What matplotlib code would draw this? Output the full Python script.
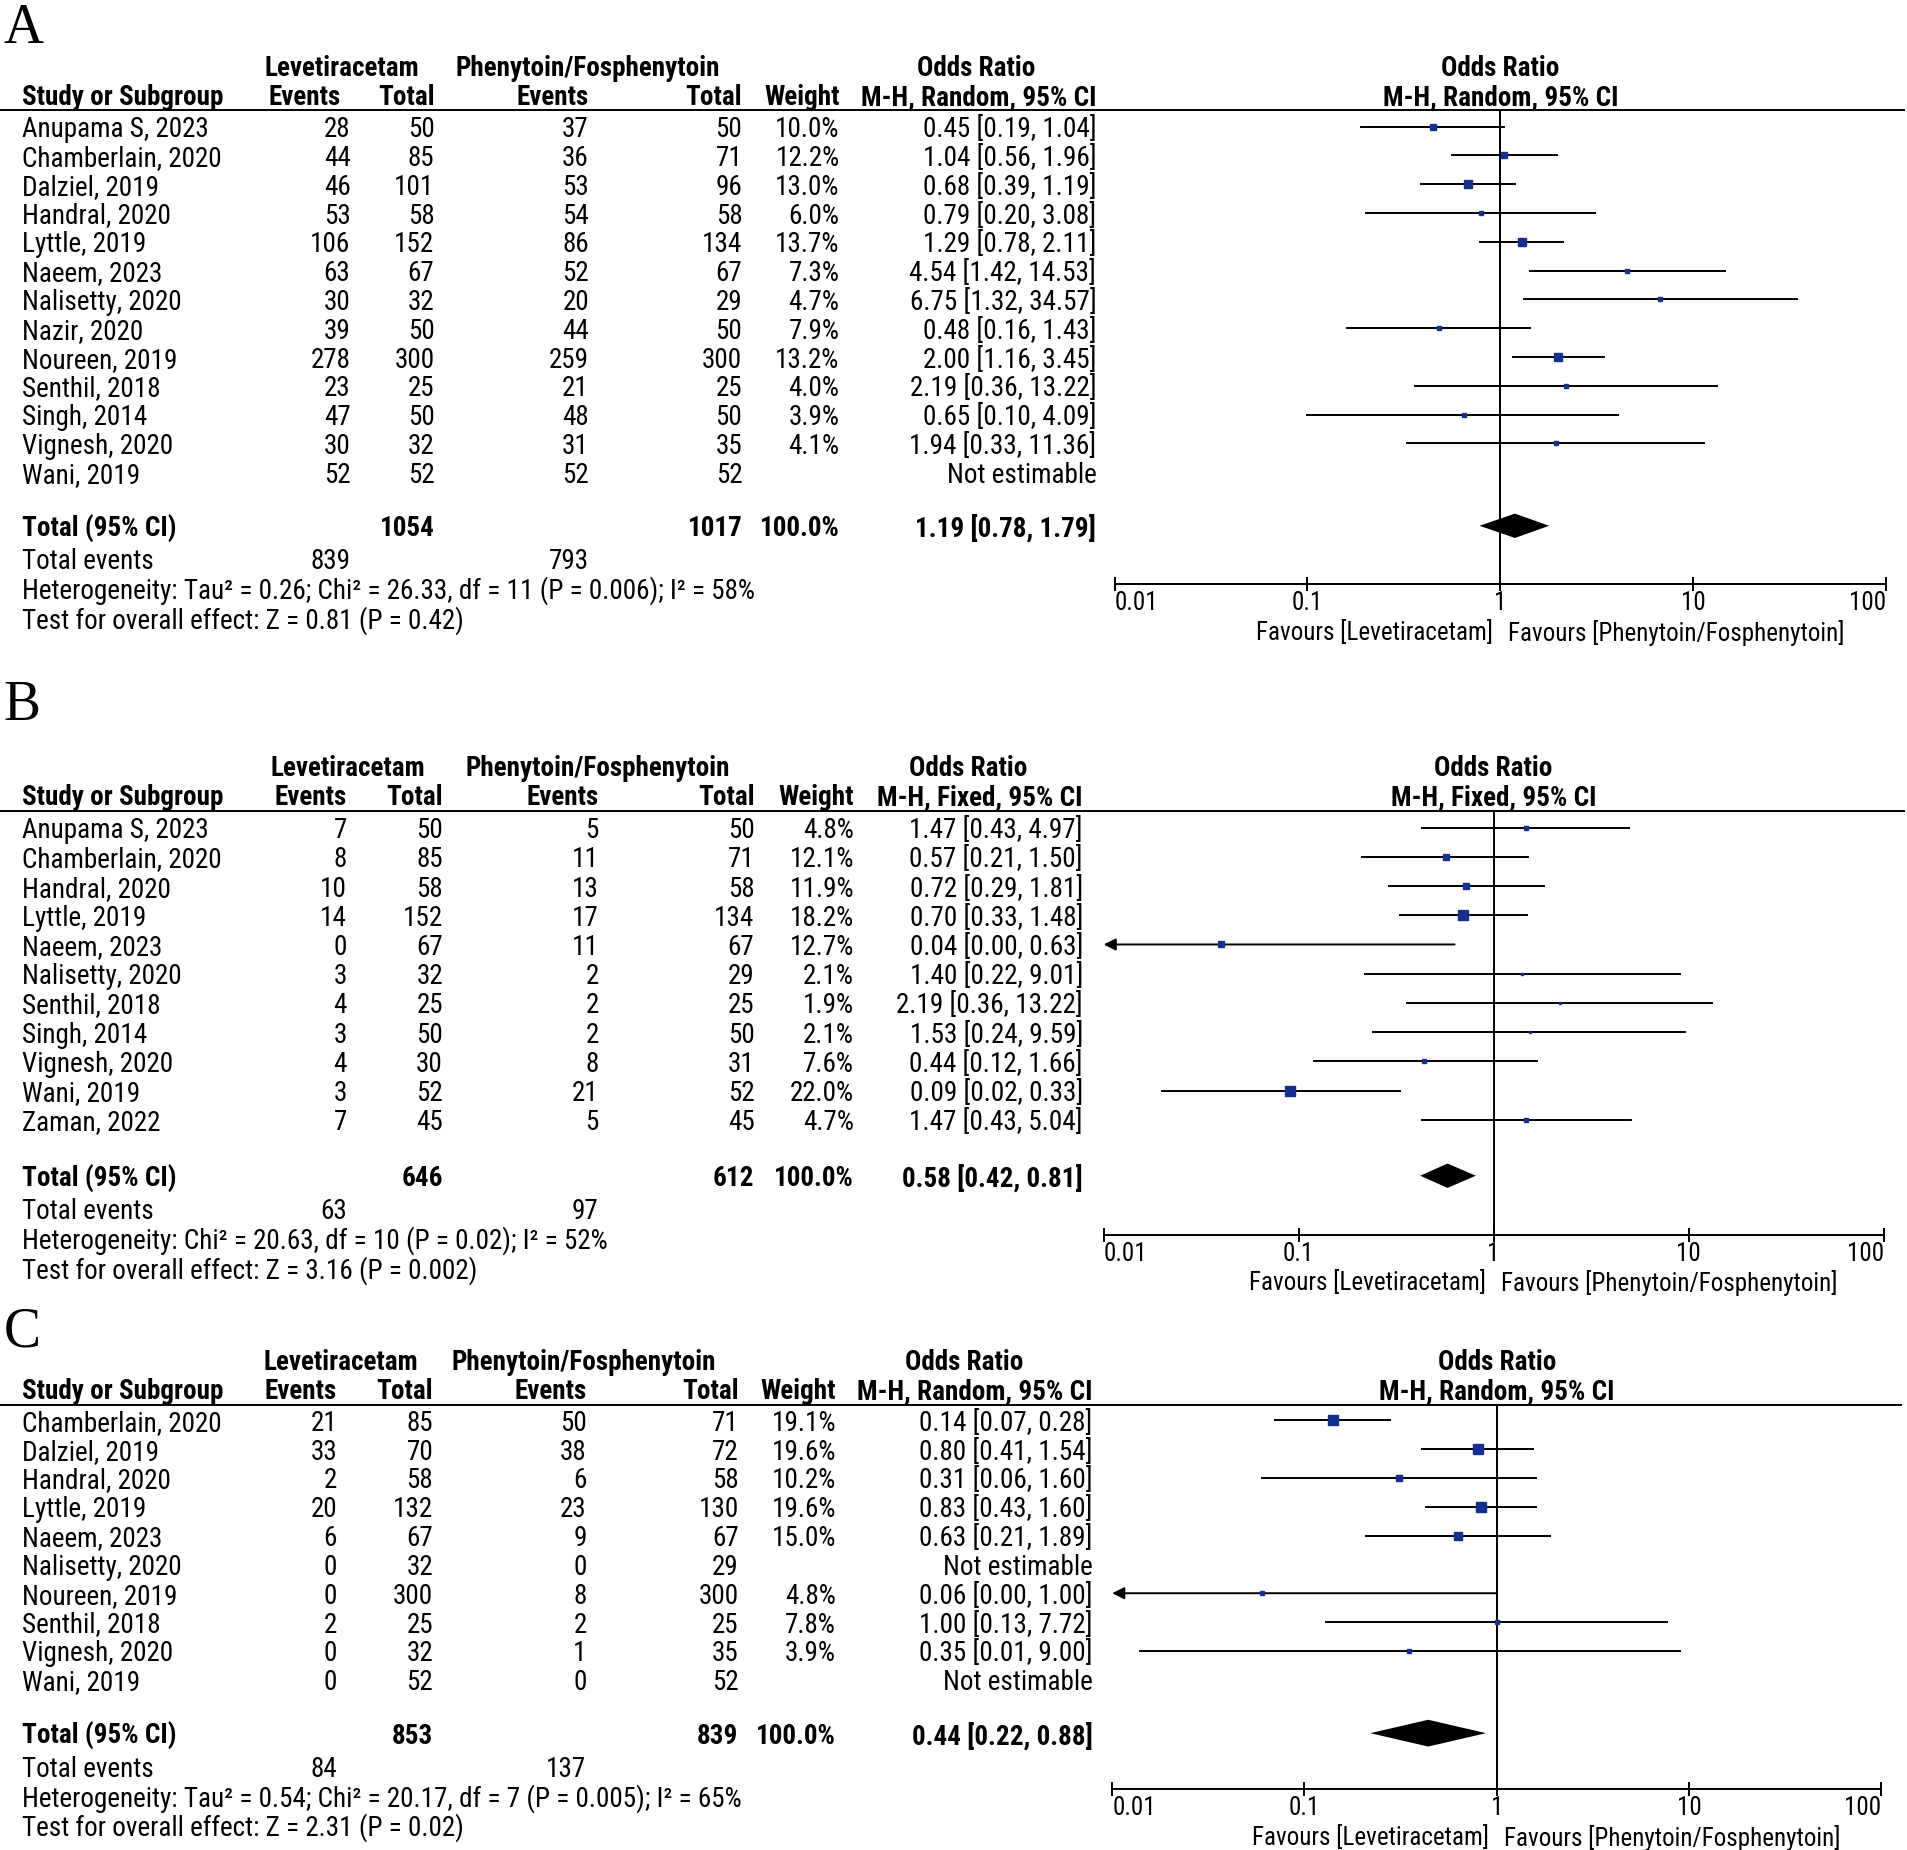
import matplotlib.pyplot as plt
import numpy as np

# ---- data ----
studies_a = ["Anupama S, 2023", "Chamberlain, 2020", "Dalziel, 2019", "Handral, 2020",
             "Lyttle, 2019", "Naeem, 2023", "Nalisetty, 2020", "Nazir, 2020",
             "Noureen, 2019", "Senthil, 2018", "Singh, 2014", "Vignesh, 2020", "Wani, 2019"]
lev_ev_a = [28, 44, 46, 53, 106, 63, 30, 39, 278, 23, 47, 30, 52]
lev_tot_a = [50, 85, 101, 58, 152, 67, 32, 50, 300, 25, 50, 32, 52]
phe_ev_a = [37, 36, 53, 54, 86, 52, 20, 44, 259, 21, 48, 31, 52]
phe_tot_a = [50, 71, 96, 58, 134, 67, 29, 50, 300, 25, 50, 35, 52]
weight_a = [10.0, 12.2, 13.0, 6.0, 13.7, 7.3, 4.7, 7.9, 13.2, 4.0, 3.9, 4.1, None]
or_a = [0.45, 1.04, 0.68, 0.79, 1.29, 4.54, 6.75, 0.48, 2.00, 2.19, 0.65, 1.94, None]
lo_a = [0.19, 0.56, 0.39, 0.20, 0.78, 1.42, 1.32, 0.16, 1.16, 0.36, 0.10, 0.33, None]
hi_a = [1.04, 1.96, 1.19, 3.08, 2.11, 14.53, 34.57, 1.43, 3.45, 13.22, 4.09, 11.36, None]
total_a = dict(n1=1054, n2=1017, ev1=839, ev2=793, est=1.19, lo=0.78, hi=1.79)
het_a = "Heterogeneity: Tau² = 0.26; Chi² = 26.33, df = 11 (P = 0.006); I² = 58%"
test_a = "Test for overall effect: Z = 0.81 (P = 0.42)"

studies_b = ["Anupama S, 2023", "Chamberlain, 2020", "Handral, 2020", "Lyttle, 2019",
             "Naeem, 2023", "Nalisetty, 2020", "Senthil, 2018", "Singh, 2014",
             "Vignesh, 2020", "Wani, 2019", "Zaman, 2022"]
lev_ev_b = [7, 8, 10, 14, 0, 3, 4, 3, 4, 3, 7]
lev_tot_b = [50, 85, 58, 152, 67, 32, 25, 50, 30, 52, 45]
phe_ev_b = [5, 11, 13, 17, 11, 2, 2, 2, 8, 21, 5]
phe_tot_b = [50, 71, 58, 134, 67, 29, 25, 50, 31, 52, 45]
weight_b = [4.8, 12.1, 11.9, 18.2, 12.7, 2.1, 1.9, 2.1, 7.6, 22.0, 4.7]
or_b = [1.47, 0.57, 0.72, 0.70, 0.04, 1.40, 2.19, 1.53, 0.44, 0.09, 1.47]
lo_b = [0.43, 0.21, 0.29, 0.33, 0.003, 0.22, 0.36, 0.24, 0.12, 0.02, 0.43]
hi_b = [4.97, 1.50, 1.81, 1.48, 0.63, 9.01, 13.22, 9.59, 1.66, 0.33, 5.04]
total_b = dict(n1=646, n2=612, ev1=63, ev2=97, est=0.58, lo=0.42, hi=0.81)
het_b = "Heterogeneity: Chi² = 20.63, df = 10 (P = 0.02); I² = 52%"
test_b = "Test for overall effect: Z = 3.16 (P = 0.002)"

studies_c = ["Chamberlain, 2020", "Dalziel, 2019", "Handral, 2020", "Lyttle, 2019",
             "Naeem, 2023", "Nalisetty, 2020", "Noureen, 2019", "Senthil, 2018",
             "Vignesh, 2020", "Wani, 2019"]
lev_ev_c = [21, 33, 2, 20, 6, 0, 0, 2, 0, 0]
lev_tot_c = [85, 70, 58, 132, 67, 32, 300, 25, 32, 52]
phe_ev_c = [50, 38, 6, 23, 9, 0, 8, 2, 1, 0]
phe_tot_c = [71, 72, 58, 130, 67, 29, 300, 25, 35, 52]
weight_c = [19.1, 19.6, 10.2, 19.6, 15.0, None, 4.8, 7.8, 3.9, None]
or_c = [0.14, 0.80, 0.31, 0.83, 0.63, None, 0.06, 1.00, 0.35, None]
lo_c = [0.07, 0.41, 0.06, 0.43, 0.21, None, 0.003, 0.13, 0.014, None]
hi_c = [0.28, 1.54, 1.60, 1.60, 1.89, None, 1.00, 7.72, 9.00, None]
total_c = dict(n1=853, n2=839, ev1=84, ev2=137, est=0.44, lo=0.22, hi=0.88)
het_c = "Heterogeneity: Tau² = 0.54; Chi² = 20.17, df = 7 (P = 0.005); I² = 65%"
test_c = "Test for overall effect: Z = 2.31 (P = 0.02)"

ticks = [0.01, 0.1, 1, 10, 100]
tick_labels = ["0.01", "0.1", "1", "10", "100"]

NAVY = "#13308f"
FONT = ["Roboto Condensed", "Liberation Sans"]
FS = 19.5     # table text
FS_AX = 18    # axis tick labels and "Favours" captions
W, H = 1568, 1520  # layout units (reference scaled down)

fig = plt.figure(figsize=(19.08, 18.5), dpi=100)
canvas = fig.add_axes([0, 0, 1, 1])
canvas.set_xlim(0, W)
canvas.set_ylim(H, 0)
canvas.axis("off")


def fmt(v):
    if v < 0.01:
        return "0.00"
    return "%.2f" % v


def panel(letter, studies, ev1, tot1, ev2, tot2, wt, est, lo, hi, tot, het, test,
          method, L):
    t = dict(family=FONT, fontsize=FS, va="center_baseline")
    tb = dict(t, fontweight="bold")
    canvas.text(3, L["letter"], letter, family="Liberation Serif", fontsize=40,
                va="center_baseline")
    c = L["cols"]
    # header
    canvas.text(L["lev_c"], L["h1"], "Levetiracetam", ha="center", **tb)
    canvas.text(L["phe_c"], L["h1"], "Phenytoin/Fosphenytoin", ha="center", **tb)
    canvas.text(L["or_c"], L["h1"], "Odds Ratio", ha="center", **tb)
    canvas.text(18, L["h2"], "Study or Subgroup", ha="left", **tb)
    for x, s in zip(L["hcols"], ["Events", "Total", "Events", "Total", "Weight",
                                 "M-H, %s, 95%% CI" % method]):
        canvas.text(x, L["h2"], s, ha="right", **tb)
    x1 = L["x1"]
    canvas.text(x1, L["h1"], "Odds Ratio", ha="center", **tb)
    canvas.text(x1, L["h2"], "M-H, %s, 95%% CI" % method, ha="center", **tb)
    canvas.plot([0, L["line_end"]], [L["line"], L["line"]], color="black", lw=1.4)

    # forest axes
    x0, x100 = L["x001"], L["x100"]
    top, bot = L["line"], L["axis"]
    ax = fig.add_axes([x0 / W, 1 - bot / H, (x100 - x0) / W, (bot - top) / H])
    ax.set_xscale("log")
    ax.set_xlim(0.01, 100)
    ax.set_ylim(bot, top)
    ax.patch.set_alpha(0)
    for sp in ["left", "right", "top"]:
        ax.spines[sp].set_visible(False)
    ax.spines["bottom"].set_linewidth(1.4)
    ax.set_yticks([])
    ax.set_xticks(ticks)
    ax.set_xticklabels(tick_labels, family=FONT, fontsize=FS_AX)
    ax.xaxis.set_minor_locator(plt.NullLocator())
    ax.tick_params(axis="x", direction="inout", length=10, width=1.4, pad=0)
    labs = ax.get_xticklabels()
    labs[0].set_ha("left")
    labs[-1].set_ha("right")
    ax.axvline(1, color="black", lw=1.4)

    for i, name in enumerate(studies):
        y = L["row0"] + i * L["dy"]
        canvas.text(18, y, name, ha="left", **t)
        for x, v in zip(c[:4], [ev1[i], tot1[i], ev2[i], tot2[i]]):
            canvas.text(x, y, str(v), ha="right", **t)
        if est[i] is None:
            canvas.text(c[5], y, "Not estimable", ha="right", **t)
            continue
        canvas.text(c[4], y, "%.1f%%" % wt[i], ha="right", **t)
        canvas.text(c[5], y, "%.2f [%s, %s]" % (est[i], fmt(lo[i]), fmt(hi[i])),
                    ha="right", **t)
        if lo[i] < 0.01:
            ax.annotate("", xy=(0.01, y), xytext=(hi[i], y), annotation_clip=False,
                        arrowprops=dict(arrowstyle="-|>", color="black", lw=1.4,
                                        mutation_scale=18, shrinkA=0, shrinkB=0))
        else:
            ax.plot([lo[i], hi[i]], [y, y], color="black", lw=1.4, clip_on=False)
        ms = (1.5 + 0.33 * wt[i]) * 0.876
        ax.plot([est[i]], [y], marker="s", ms=ms, color=NAVY, mec=NAVY,
                linestyle="none", clip_on=False, zorder=3)

    # total row
    yt = L["total"]
    canvas.text(18, yt, "Total (95% CI)", ha="left", **tb)
    canvas.text(c[1], yt, str(tot["n1"]), ha="right", **tb)
    canvas.text(c[3], yt, str(tot["n2"]), ha="right", **tb)
    canvas.text(c[4], yt, "100.0%", ha="right", **tb)
    canvas.text(c[5], yt, "%.2f [%.2f, %.2f]" % (tot["est"], tot["lo"], tot["hi"]),
                ha="right", **tb)
    dh = L["dh"]
    ax.fill([tot["lo"], tot["est"], tot["hi"], tot["est"]],
            [yt, yt - dh, yt, yt + dh], color="black", lw=0, clip_on=False)

    canvas.text(18, L["events"], "Total events", ha="left", **t)
    canvas.text(c[0], L["events"], str(tot["ev1"]), ha="right", **t)
    canvas.text(c[2], L["events"], str(tot["ev2"]), ha="right", **t)
    canvas.text(18, L["het"], het, ha="left", **t)
    canvas.text(18, L["test"], test, ha="left", **t)
    tf = dict(t, fontsize=FS_AX)
    canvas.text(x1 - 6, L["fav"], "Favours [Levetiracetam]", ha="right", **tf)
    canvas.text(x1 + 6, L["fav"], "Favours [Phenytoin/Fosphenytoin]", ha="left", **tf)


def layout(letter, h1, h2, line, row0, dy, total, events, het, test, axis, fav,
           cols, hcols, lev_c, phe_c, or_c, x001, x100, line_end, dh):
    return dict(letter=letter, h1=h1, h2=h2, line=line, row0=row0, dy=dy,
                total=total, events=events, het=het, test=test, axis=axis, fav=fav,
                cols=cols, hcols=hcols, lev_c=lev_c, phe_c=phe_c, or_c=or_c,
                x001=x001, x100=x100, x1=(x001 + x100) / 2, line_end=line_end, dh=dh)


LA = layout(19, 54, 78, 90, 104, 23.67, 432, 459, 483, 507, 480, 518,
            [288, 357, 484, 610, 690, 901], [280, 357, 484, 610, 690, 901],
            281, 483, 802, 916, 1550, 1565, 10)
LB = layout(575, 629, 653, 666, 680, 24.0, 966, 993, 1017, 1041, 1015, 1052,
            [285, 364, 492, 620, 702, 890], [285, 364, 492, 620, 702, 890],
            286, 491, 796, 907, 1548, 1565, 10)
LC = layout(1090, 1117, 1141, 1154, 1167, 23.67, 1424, 1451, 1475, 1499, 1470, 1508,
            [277, 356, 482, 607, 687, 898], [277, 356, 482, 607, 687, 898],
            280, 480, 792, 914, 1546, 1562, 11)

panel("A", studies_a, lev_ev_a, lev_tot_a, phe_ev_a, phe_tot_a, weight_a, or_a, lo_a,
      hi_a, total_a, het_a, test_a, "Random", LA)
panel("B", studies_b, lev_ev_b, lev_tot_b, phe_ev_b, phe_tot_b, weight_b, or_b, lo_b,
      hi_b, total_b, het_b, test_b, "Fixed", LB)
panel("C", studies_c, lev_ev_c, lev_tot_c, phe_ev_c, phe_tot_c, weight_c, or_c, lo_c,
      hi_c, total_c, het_c, test_c, "Random", LC)

fig.savefig("out.png", dpi=100)
